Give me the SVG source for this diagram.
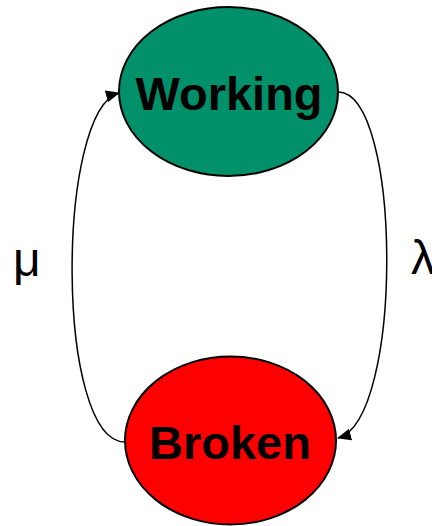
<svg xmlns="http://www.w3.org/2000/svg" width="432" height="526" viewBox="0 0 432 526">
<style>
.node{stroke:#000;stroke-width:2}
.lbl{font-family:"Liberation Sans",Arial,sans-serif;font-weight:bold;font-size:47px;fill:#000;text-anchor:middle}
.rate{font-family:"Liberation Sans",Arial,sans-serif;font-size:48px;fill:#000}
.edge{fill:none;stroke:#000;stroke-width:1.5}
</style>
<defs>
<marker id="arr" viewBox="0 0 14 12" refX="13" refY="6" markerWidth="14" markerHeight="12" markerUnits="userSpaceOnUse" orient="auto">
<path d="M0,0 L14,6 L0,12 z" fill="#000"/>
</marker>
</defs>
<rect width="432" height="526" fill="#fff"/>
<g id="connectors">
<path class="edge" d="M338,92 C402,92 404,420 338,438" marker-end="url(#arr)"/>
<path class="edge" d="M125,442 C55,442 56,110 119,93" marker-end="url(#arr)"/>
</g>
<g id="working">
<ellipse class="node" cx="228.5" cy="91.5" rx="109.5" ry="84.5" fill="#00916B"/>
<text class="lbl" x="229" y="110">Working</text>
</g>
<g id="broken">
<ellipse class="node" cx="230.5" cy="440.5" rx="105.5" ry="84" fill="#FF0000"/>
<text class="lbl" x="230" y="459">Broken</text>
</g>
<text class="rate" x="13" y="276">μ</text>
<text class="rate" x="411" y="274">λ</text>
</svg>
